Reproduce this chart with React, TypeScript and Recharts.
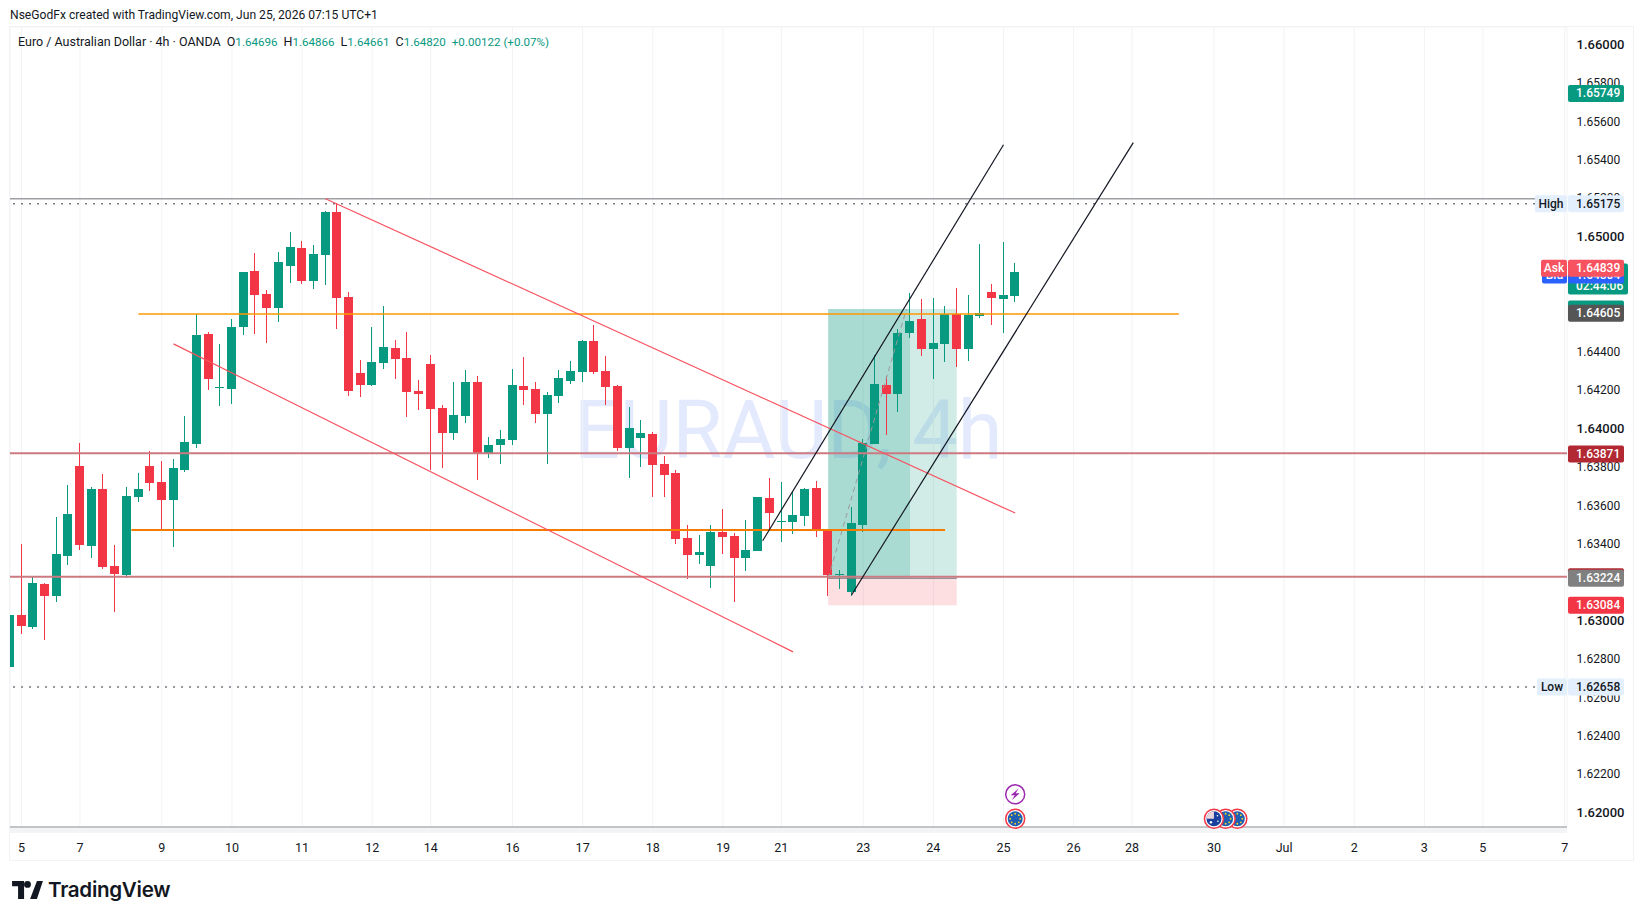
import { Bar, CartesianGrid, ComposedChart, ReferenceArea, ReferenceDot, ReferenceLine, XAxis, YAxis } from "recharts";

const opens = [1.62762, 1.63033, 1.62971, 1.63195, 1.63132, 1.6334, 1.63809, 1.63393, 1.6369, 1.63288, 1.63241, 1.63648, 1.63809, 1.63726, 1.63632, 1.63788, 1.63924, 1.64497, 1.64215, 1.6421, 1.64533, 1.64825, 1.64705, 1.64632, 1.64851, 1.64944, 1.64773, 1.64908, 1.65131, 1.64689, 1.64293, 1.64231, 1.64345, 1.64424, 1.64371, 1.642, 1.6434, 1.64111, 1.63981, 1.6407, 1.64246, 1.63877, 1.63919, 1.63945, 1.64226, 1.6421, 1.6408, 1.64174, 1.64252, 1.64298, 1.6446, 1.64304, 1.64226, 1.63903, 1.63955, 1.63976, 1.6382, 1.63773, 1.63434, 1.63346, 1.63288, 1.63465, 1.63445, 1.6333, 1.63367, 1.63643, 1.63518, 1.63518, 1.63549, 1.63695, 1.63481, 1.63241, 1.63153, 1.63502, 1.63924, 1.64231, 1.64184, 1.64502, 1.64575, 1.64419, 1.64445, 1.64601, 1.64419, 1.6459, 1.64716, 1.64679, 1.64696];
const highs = [1.63033, 1.63403, 1.63236, 1.632, 1.63544, 1.6371, 1.63929, 1.637, 1.63768, 1.63398, 1.637, 1.63773, 1.63887, 1.63835, 1.63846, 1.6407, 1.64601, 1.64507, 1.64445, 1.64575, 1.6482, 1.64918, 1.64726, 1.64924, 1.65027, 1.6498, 1.6496, 1.65137, 1.65178, 1.64716, 1.64361, 1.64533, 1.64643, 1.64465, 1.64507, 1.64257, 1.64387, 1.64127, 1.64246, 1.64309, 1.64278, 1.6396, 1.63997, 1.64314, 1.64377, 1.64246, 1.64194, 1.64309, 1.64356, 1.64465, 1.64544, 1.64382, 1.64231, 1.64116, 1.64049, 1.63987, 1.63861, 1.63788, 1.63502, 1.6345, 1.63502, 1.63585, 1.6346, 1.63528, 1.63648, 1.63747, 1.63726, 1.63674, 1.63695, 1.63731, 1.63481, 1.63268, 1.63596, 1.6395, 1.64387, 1.64278, 1.64523, 1.6471, 1.64679, 1.64684, 1.64643, 1.64737, 1.647, 1.64965, 1.64757, 1.64976, 1.64866];
const lows = [1.62762, 1.62934, 1.6296, 1.62903, 1.63101, 1.63293, 1.63372, 1.6333, 1.63273, 1.63049, 1.63226, 1.63622, 1.63679, 1.63476, 1.63387, 1.63778, 1.63903, 1.64205, 1.64122, 1.64132, 1.64491, 1.64497, 1.6445, 1.64559, 1.64763, 1.64757, 1.64731, 1.64752, 1.64523, 1.64174, 1.64168, 1.64226, 1.64314, 1.64262, 1.64064, 1.64101, 1.63788, 1.63799, 1.63945, 1.64033, 1.63736, 1.63851, 1.6382, 1.63919, 1.64127, 1.64033, 1.6382, 1.64137, 1.64236, 1.64246, 1.64288, 1.64127, 1.63887, 1.63747, 1.63804, 1.63648, 1.63648, 1.63403, 1.6322, 1.63299, 1.63174, 1.63351, 1.63101, 1.63262, 1.63367, 1.63476, 1.63413, 1.63455, 1.63497, 1.63439, 1.63132, 1.63169, 1.63132, 1.63465, 1.63924, 1.63971, 1.6409, 1.64476, 1.64382, 1.64262, 1.64351, 1.64325, 1.64356, 1.6458, 1.64544, 1.64502, 1.64661];
const closes = [1.63033, 1.62976, 1.632, 1.63132, 1.63351, 1.63559, 1.63398, 1.6369, 1.63283, 1.63247, 1.63653, 1.6369, 1.63721, 1.63632, 1.63799, 1.63934, 1.64491, 1.64262, 1.6422, 1.64533, 1.6482, 1.647, 1.64632, 1.64871, 1.6495, 1.64773, 1.64913, 1.65131, 1.64684, 1.642, 1.64231, 1.64351, 1.64429, 1.64366, 1.64194, 1.64184, 1.64106, 1.63981, 1.64075, 1.64246, 1.63877, 1.63919, 1.6395, 1.64231, 1.64205, 1.6408, 1.64179, 1.64267, 1.64304, 1.6446, 1.64298, 1.6422, 1.63903, 1.64007, 1.63981, 1.63814, 1.63762, 1.63429, 1.63346, 1.63361, 1.63465, 1.63439, 1.6333, 1.63372, 1.63648, 1.63564, 1.63523, 1.63554, 1.6369, 1.63476, 1.63241, 1.63247, 1.63512, 1.63929, 1.64236, 1.64184, 1.64502, 1.64565, 1.64419, 1.6445, 1.64601, 1.64419, 1.64596, 1.64606, 1.64684, 1.647, 1.6482];

const priceTicks = [1.62, 1.622, 1.624, 1.626, 1.628, 1.63, 1.632, 1.634, 1.636, 1.638, 1.64, 1.642, 1.644, 1.646, 1.648, 1.65, 1.652, 1.654, 1.656, 1.658, 1.66];
const dateTicks = [1, 6, 13, 19, 25, 31, 36, 43, 49, 55, 61, 66, 73, 79, 85, 91, 96, 103, 109, 115, 121, 126, 133];
const dateLabels = ["5", "7", "9", "10", "11", "12", "14", "16", "17", "18", "19", "21", "23", "24", "25", "26", "28", "30", "Jul", "2", "3", "5", "7"];

const candles = opens.map((open, i) => ({ i, open, high: highs[i], low: lows[i], close: closes[i] }));

const UP = "#089981";
const DOWN = "#f23645";
const INK = "#131722";
const FONT = "Roboto, sans-serif";

function Candle(props: any) {
  const { x, y, width, height, payload } = props;
  const up = payload.close >= payload.open;
  const color = up ? UP : DOWN;
  const perUnit = height / (payload.high - payload.low);
  const top = y + (payload.high - Math.max(payload.open, payload.close)) * perUnit;
  const bottom = y + (payload.high - Math.min(payload.open, payload.close)) * perUnit;
  const left = Math.round(x + width / 2 - 4.5);
  return (
    <g shapeRendering="crispEdges">
      <rect x={left + 4} y={Math.round(y)} width={1} height={Math.max(1, Math.round(height))} fill={color} />
      <rect x={left} y={Math.round(top)} width={9} height={Math.max(1, Math.round(bottom) - Math.round(top))} fill={color} />
    </g>
  );
}

// axis labels are hung on reference lines too, so the tags below can cover them
function priceLabel(price: number) {
  const major = Math.round(price * 1000) % 10 === 0;
  return (props: any) => (
    <text
      x={props.viewBox.x + props.viewBox.width + 9.5}
      y={props.viewBox.y + 3.5}
      fontFamily={FONT}
      fontSize={major ? 13 : 12}
      fontWeight={major ? 500 : 400}
      fill={INK}
    >
      {price.toFixed(5)}
    </text>
  );
}

function tag(text: string, fill: string, color: string, side?: string, sideWidth = 0, extra?: string) {
  return (props: any) => {
    const right = props.viewBox.x + props.viewBox.width;
    const y = props.viewBox.y;
    return (
      <g fontFamily={FONT} fontSize={12} fontWeight={500}>
        {side ? (
          <>
            <rect x={right - sideWidth} y={y - 8.5} width={sideWidth} height={17} rx={2} fill={fill} />
            <text x={right - sideWidth / 2} y={y + 4} textAnchor="middle" fill={color}>{side}</text>
          </>
        ) : null}
        <rect x={right + 1} y={y - 8.5} width={extra ? 60 : 56} height={extra ? 31 : 17} rx={2} fill={fill} />
        {text ? <text x={right + 9} y={y + 4} fill={color}>{text}</text> : null}
        {extra ? <text x={right + 9} y={y + 18} fill={color}>{extra}</text> : null}
      </g>
    );
  };
}

function EuFlag(props: any) {
  const { cx, cy } = props;
  const stars = [0, 45, 90, 135, 180, 225, 270, 315];
  return (
    <g>
      <circle cx={cx} cy={cy} r={9.5} fill="#fff" stroke={DOWN} strokeWidth={1.5} />
      <circle cx={cx} cy={cy} r={7.5} fill="#1e5fb3" />
      {stars.map((a) => (
        <circle key={a} cx={cx + 5 * Math.cos((a * Math.PI) / 180)} cy={cy + 5 * Math.sin((a * Math.PI) / 180)} r={0.9} fill="#f5d327" />
      ))}
    </g>
  );
}

function AuFlag(props: any) {
  const { cx, cy } = props;
  return (
    <g>
      <circle cx={cx} cy={cy} r={9.5} fill="#fff" stroke={DOWN} strokeWidth={1.5} />
      <circle cx={cx} cy={cy} r={7.5} fill="#1a3f9c" />
      <path d={`M${cx - 7.5} ${cy}A7.5 7.5 0 0 1 ${cx} ${cy - 7.5}V${cy}Z`} fill="#e9d6dc" />
      <circle cx={cx - 3} cy={cy + 3.5} r={1.2} fill="#fff" />
      <circle cx={cx + 3.5} cy={cy - 3} r={0.8} fill="#fff" />
      <circle cx={cx + 4} cy={cy + 2.5} r={0.8} fill="#fff" />
    </g>
  );
}

function Lightning(props: any) {
  const { cx, cy } = props;
  return (
    <g>
      <circle cx={cx} cy={cy} r={9.5} fill="#fff" stroke="#9c27b0" strokeWidth={1.5} />
      <path d={`M${cx + 3.5} ${cy - 6}L${cx - 4.5} ${cy + 1}H${cx - 0.5}L${cx - 3.5} ${cy + 6}L${cx + 4.5} ${cy - 1}H${cx + 0.5}Z`} fill="#9c27b0" />
    </g>
  );
}

function Legend() {
  const value = { color: UP, fontSize: 11.6 };
  const gap = { marginLeft: 6 };
  return (
    <div style={{ position: "absolute", left: 18, top: 34, fontFamily: FONT, fontSize: 12.5, color: INK, whiteSpace: "pre", lineHeight: "16px" }}>
      Euro / Australian Dollar · 4h · OANDA
      <span style={gap}>O</span><span style={value}>1.64696</span>
      <span style={gap}>H</span><span style={value}>1.64866</span>
      <span style={gap}>L</span><span style={value}>1.64661</span>
      <span style={gap}>C</span><span style={value}>1.64820</span>
      <span style={{ ...value, ...gap }}>+0.00122 (+0.07%)</span>
    </div>
  );
}

export default function App() {
  return (
    <div style={{ position: "absolute", left: 0, top: 0, width: 1643, height: 920, background: "#fff", overflow: "hidden" }}>
      <div style={{ position: "absolute", left: 10, top: 7, fontFamily: FONT, fontSize: 12.1, color: INK, lineHeight: "16px", whiteSpace: "pre" }}>
        NseGodFx created with TradingView.com, Jun 25, 2026 07:15 UTC+1
      </div>
      <div style={{ position: "absolute", left: 9, top: 26, width: 1623, height: 833, border: "1.5px solid #f2f3f5" }} />
      <div style={{ position: "absolute", left: 10, top: 827, width: 1557, height: 6, background: "#f3f4f5" }} />
      <div style={{ position: "absolute", left: 574, top: 383, fontFamily: "Roboto, sans-serif", fontWeight: 400, fontSize: 81, lineHeight: "96px", color: "#e4eafe", whiteSpace: "pre" }}>
        EURAUD, 4h
      </div>
      <ComposedChart width={1643} height={920} data={candles} margin={{ top: 27, right: 10, bottom: 60, left: 10 }} style={{ position: "absolute", left: 0, top: 0 }}>
        <CartesianGrid stroke="#f2f3f5" />
        <XAxis
          dataKey="i"
          type="number"
          domain={[0.017, 133.2]}
          allowDataOverflow
          ticks={dateTicks}
          interval={0}
          height={33}
          tickLine={false}
          stroke="#8f9196"
          tickMargin={10}
          tick={{ fontSize: 12.5, fill: INK, fontFamily: FONT }}
          tickFormatter={(v: number) => dateLabels[dateTicks.indexOf(v)]}
        />
        <YAxis
          orientation="right"
          type="number"
          width={66}
          domain={[1.61929, 1.660953]}
          allowDataOverflow
          ticks={priceTicks}
          interval={0}
          axisLine={false}
          tickLine={false}
          tick={false}
        />

        <ReferenceArea x1={70} x2={77} y1={1.63224} y2={1.64627} fill={UP} fillOpacity={0.35} stroke="none" ifOverflow="visible" />
        <ReferenceArea x1={77} x2={81} y1={1.63224} y2={1.64627} fill={UP} fillOpacity={0.19} stroke="none" ifOverflow="visible" />
        <ReferenceArea x1={70} x2={81} y1={1.63084} y2={1.63224} fill={DOWN} fillOpacity={0.16} stroke="none" ifOverflow="visible" />
        <ReferenceLine segment={[{ x: 70, y: 1.63224 }, { x: 81, y: 1.63224 }]} stroke="#808080" strokeWidth={1} />
        <ReferenceLine segment={[{ x: 70, y: 1.63224 }, { x: 76.7, y: 1.64627 }]} stroke="#9a9a9a" strokeWidth={1} strokeDasharray="5 4" />

        <ReferenceLine y={1.65201} stroke="#9e9fa3" strokeWidth={1.5} />
        <ReferenceLine y={1.65175} stroke="#787b86" strokeWidth={1.5} strokeDasharray="2 6" />
        <ReferenceLine y={1.62658} stroke="#787b86" strokeWidth={1.5} strokeDasharray="2 6" />
        <ReferenceLine y={1.63876} stroke="#cc7a80" strokeWidth={2} />
        <ReferenceLine y={1.63232} stroke="#cc7a80" strokeWidth={2} />
        <ReferenceLine segment={[{ x: 11, y: 1.64601 }, { x: 100, y: 1.64601 }]} stroke="#ff9800" strokeWidth={1.5} />
        <ReferenceLine segment={[{ x: 10.4, y: 1.63476 }, { x: 80, y: 1.63476 }]} stroke="#f57c00" strokeWidth={2} />

        <ReferenceLine segment={[{ x: 27, y: 1.65201 }, { x: 86, y: 1.63564 }]} stroke="#f7525f" strokeWidth={1.2} />
        <ReferenceLine segment={[{ x: 14, y: 1.64445 }, { x: 67, y: 1.62841 }]} stroke="#f7525f" strokeWidth={1.2} />
        <ReferenceLine segment={[{ x: 64.4, y: 1.6342 }, { x: 85, y: 1.65482 }]} stroke={INK} strokeWidth={1.2} />
        <ReferenceLine segment={[{ x: 72, y: 1.63137 }, { x: 96.1, y: 1.65493 }]} stroke={INK} strokeWidth={1.2} />

        <Bar dataKey={(d: any) => [d.low, d.high]} shape={<Candle />} barSize={9} isAnimationActive={false} />

        <ReferenceDot x={86} y={1.62099} r={9} shape={<Lightning />} ifOverflow="visible" />
        <ReferenceDot x={86} y={1.61972} r={9} shape={<EuFlag />} ifOverflow="visible" />
        <ReferenceDot x={105} y={1.61972} r={9} shape={<EuFlag />} ifOverflow="visible" />
        <ReferenceDot x={104} y={1.61972} r={9} shape={<EuFlag />} ifOverflow="visible" />
        <ReferenceDot x={103} y={1.61972} r={9} shape={<AuFlag />} ifOverflow="visible" />

        {priceTicks.map((p) => (
          <ReferenceLine key={p} y={p} stroke="none" label={priceLabel(p)} />
        ))}

        <ReferenceLine y={1.65749} stroke="none" label={tag("1.65749", UP, "#fff")} />
        <ReferenceLine y={1.65175} stroke="none" label={tag("1.65175", "#e3effd", INK, "High", 32)} />
        <ReferenceLine y={1.6482} stroke="none" label={tag("", UP, "#fff", undefined, 0, "02:44:06")} />
        <ReferenceLine y={1.64804} stroke="none" label={tag("1.64804", "#2962ff", "#fff", "Bid", 25)} />
        <ReferenceLine y={1.64839} stroke="none" label={tag("1.64839", "#f7525f", "#fff", "Ask", 26)} />
        <ReferenceLine y={1.64627} stroke="none" label={tag("", UP, "#fff")} />
        <ReferenceLine y={1.64605} stroke="none" label={tag("1.64605", "#555555", "#fff")} />
        <ReferenceLine y={1.63871} stroke="none" label={tag("1.63871", "#b22833", "#fff")} />
        <ReferenceLine y={1.63232} stroke="none" label={tag("", "#b22833", "#fff")} />
        <ReferenceLine y={1.63224} stroke="none" label={tag("1.63224", "#808080", "#fff")} />
        <ReferenceLine y={1.63084} stroke="none" label={tag("1.63084", DOWN, "#fff")} />
        <ReferenceLine y={1.62658} stroke="none" label={tag("1.62658", "#e3effd", INK, "Low", 30)} />
      </ComposedChart>
      <Legend />
      <svg width={31} height={18} viewBox="0 0 36 21" style={{ position: "absolute", left: 12, top: 881 }}>
        <path d="M14 0H0v6h7v15h7V0zM29 21h-8L29 0h7L29 21zM22 4a4 4 0 1 1-8 0 4 4 0 0 1 8 0z" fill="#131722" />
      </svg>
      <div style={{ position: "absolute", left: 48, top: 876, fontFamily: "Inter, sans-serif", fontWeight: 600, fontSize: 20.6, lineHeight: "28px", color: "#131722", letterSpacing: "-0.3px" }}>
        TradingView
      </div>
    </div>
  );
}
